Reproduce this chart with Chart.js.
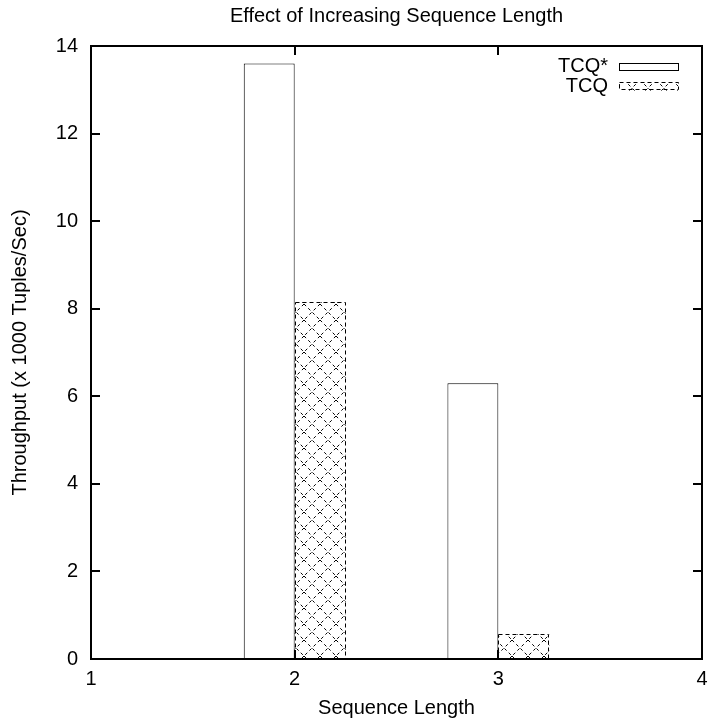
<!DOCTYPE html>
<html>
<head>
<meta charset="utf-8">
<script src="https://cdn.jsdelivr.net/npm/chart.js@4/dist/chart.umd.min.js"></script>
<style>
  html, body { margin: 0; padding: 0; background: #fff; }
  #wrap { width: 709px; height: 722px; }
</style>
</head>
<body>
<div id="wrap"><canvas id="chart" width="709" height="722"></canvas></div>
<script>
// data
var seqLengths = [2, 3];
var tcqStar = [13.6, 6.3];
var tcq = [8.15, 0.57];
var seriesNames = ['TCQ*', 'TCQ'];
var xTicks = [1, 2, 3, 4];
var yTicks = [0, 2, 4, 6, 8, 10, 12, 14];

var FONT = "'Liberation Sans', Arial, Helvetica, sans-serif";
var FS = 20;

// crosshatch fill like gnuplot pattern 2
function makeHatch() {
  var c = document.createElement('canvas');
  c.width = 16; c.height = 16;
  var g = c.getContext('2d');
  g.fillStyle = '#fff';
  g.fillRect(0, 0, 16, 16);
  g.strokeStyle = '#000';
  g.lineWidth = 1;
  g.setLineDash([3, 3]);
  g.beginPath();
  g.moveTo(0, 0); g.lineTo(16, 16);
  g.moveTo(16, 0); g.lineTo(0, 16);
  g.stroke();
  return g.createPattern(c, 'repeat');
}
var hatch = makeHatch();

function pts(vals) {
  return seqLengths.map(function(x, i) { return {x: x, y: vals[i]}; });
}

// frame, inward ticks, dashed outline of hatched bars and the inside legend
var gnuplotLook = {
  id: 'gnuplotLook',
  afterDatasetsDraw: function(chart) {
    var ctx = chart.ctx;
    var meta = chart.getDatasetMeta(1);
    ctx.save();
    ctx.strokeStyle = '#000';
    ctx.lineWidth = 1;
    ctx.setLineDash([4, 3]);
    meta.data.forEach(function(bar) {
      var p = bar.getProps(['x', 'y', 'base', 'width'], true);
      ctx.strokeRect(Math.round(p.x - p.width / 2) + 0.5, Math.round(p.y) + 0.5,
        Math.round(p.width) - 1, Math.round(p.base - p.y));
    });
    ctx.restore();
  },
  afterDraw: function(chart) {
    var ctx = chart.ctx, a = chart.chartArea;
    var xs = chart.scales.x, ys = chart.scales.y;
    var t = 9;
    ctx.save();
    ctx.strokeStyle = '#000';
    ctx.lineWidth = 2;
    ctx.beginPath();
    yTicks.forEach(function(v) {
      var y = Math.round(ys.getPixelForValue(v));
      ctx.moveTo(a.left, y); ctx.lineTo(a.left + t, y);
      ctx.moveTo(a.right, y); ctx.lineTo(a.right - t, y);
    });
    xTicks.forEach(function(v) {
      var x = Math.round(xs.getPixelForValue(v));
      ctx.moveTo(x, a.bottom); ctx.lineTo(x, a.bottom - t);
      ctx.moveTo(x, a.top); ctx.lineTo(x, a.top + t);
    });
    ctx.stroke();
    ctx.strokeRect(a.left, a.top, a.right - a.left, a.bottom - a.top);

    // legend
    ctx.font = FS + 'px ' + FONT;
    ctx.fillStyle = '#000';
    ctx.textAlign = 'right';
    ctx.textBaseline = 'middle';
    var boxR = a.right - 24, boxL = boxR - 59;
    chart.data.datasets.forEach(function(ds, i) {
      var cy = a.top + 20 + i * 20;
      ctx.fillText(ds.label, boxL - 11, cy);
      ctx.lineWidth = 1;
      if (i === 0) {
        ctx.setLineDash([]);
        ctx.strokeRect(boxL + 0.5, cy - 2.5, boxR - boxL, 7);
      } else {
        ctx.fillStyle = hatch;
        ctx.fillRect(boxL, cy - 3, boxR - boxL, 8);
        ctx.fillStyle = '#000';
        ctx.setLineDash([4, 3]);
        ctx.strokeRect(boxL + 0.5, cy - 3.5, boxR - boxL, 7);
      }
    });
    ctx.restore();
  }
};

var tickFont = { family: FONT, size: FS };

new Chart(document.getElementById('chart'), {
  type: 'bar',
  data: {
    datasets: [
      {
        label: seriesNames[0],
        data: pts(tcqStar),
        backgroundColor: '#fff',
        borderColor: '#000',
        borderWidth: 1
      },
      {
        label: seriesNames[1],
        data: pts(tcq),
        backgroundColor: hatch,
        borderWidth: 0
      }
    ]
  },
  options: {
    responsive: false,
    animation: false,
    categoryPercentage: 0.5,
    barPercentage: 1.0,
    layout: { padding: { left: 0, right: 7, top: 0, bottom: 0 } },
    plugins: {
      legend: { display: false },
      tooltip: { enabled: false },
      title: { display: false }
    },
    scales: {
      x: {
        type: 'linear',
        min: 1,
        max: 4,
        offset: false,
        afterBuildTicks: function(s) { s.ticks = xTicks.map(function(v) { return {value: v}; }); },
        afterFit: function(s) { s.height = 63; s.paddingLeft = 0; s.paddingRight = 0; },
        grid: { display: false, drawTicks: false, offset: false },
        border: { display: false },
        ticks: { color: '#000', padding: 8, font: tickFont, maxRotation: 0 },
        title: {
          display: true,
          text: 'Sequence Length',
          color: '#000',
          font: tickFont,
          padding: { top: 0, bottom: 2 }
        }
      },
      // top axis only carries the chart title so it centres over the plot
      top: {
        type: 'linear',
        position: 'top',
        min: 1,
        max: 4,
        offset: false,
        afterFit: function(s) { s.height = 46; s.paddingLeft = 0; s.paddingRight = 0; },
        grid: { display: false, drawTicks: false },
        border: { display: false },
        ticks: { display: false },
        title: {
          display: true,
          text: 'Effect of Increasing Sequence Length',
          color: '#000',
          font: tickFont,
          padding: { top: 4, bottom: 0 }
        }
      },
      y: {
        min: 0,
        max: 14,
        afterBuildTicks: function(s) { s.ticks = yTicks.map(function(v) { return {value: v}; }); },
        afterFit: function(s) { s.width = 91; },
        grid: { display: false, drawTicks: false },
        border: { display: false },
        ticks: { color: '#000', padding: 13, font: tickFont },
        title: {
          display: true,
          text: 'Throughput (x 1000 Tuples/Sec)',
          color: '#000',
          font: tickFont,
          padding: { top: 8, bottom: 0 }
        }
      }
    }
  },
  plugins: [gnuplotLook]
});
</script>
</body>
</html>
